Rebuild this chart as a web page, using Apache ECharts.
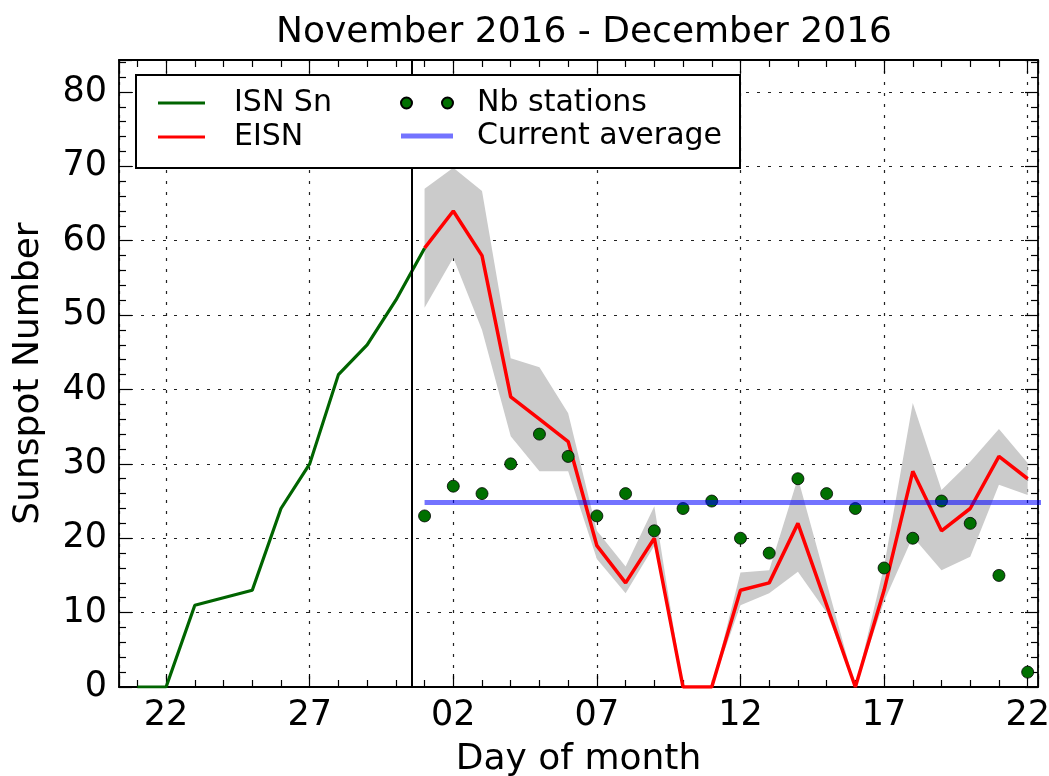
<!DOCTYPE html>
<html>
<head>
<meta charset="utf-8">
<script src="https://cdn.jsdelivr.net/npm/echarts@6/dist/echarts.min.js"></script>
<style>
  html, body { margin: 0; padding: 0; background: #fff; }
  #chart { width: 1049px; height: 776px; }
</style>
</head>
<body>
<div id="chart"></div>
<script>
// x = days since 22 Nov 2016 (Nov 21 = -1, Dec 1 = 9, Dec 22 = 30)
var xTickLabels = ['22', '27', '02', '07', '12', '17', '22'];
var xMin = -1.64, xMax = 30.36;
var nowDay = 8.54;

// ISN Sn, daily from Nov 21 to Dec 1
var isnStart = -1;
var isnValues = [0, 0, 11, 12, 13, 24, 30, 42, 46, 52, 59];

// EISN, daily from Dec 1 to Dec 22
var eisnStart = 9;
var eisnValues = [59, 64, 58, 39, 36, 33, 19, 14, 20, 0, 0, 13, 14, 22, 11, 0, 13, 29, 21, 24, 31, 28];
var eisnLow    = [51, 57.7, 48, 33.7, 29, 29, 17.2, 12.6, 19, 0, 0, 11, 12.6, 15.5, 10, 0, 11.5, 20.2, 15.7, 17.5, 27.2, 25.8];
var eisnHigh   = [67, 69.8, 66.7, 44.2, 43, 36.8, 21, 16.2, 24.3, 0, 0, 15.4, 15.7, 28.1, 14, 0, 16.2, 38.2, 26.5, 30.3, 34.7, 30.1];

// number of stations, Dec 1 to Dec 22
var nbStations = [23, 27, 26, 30, 34, 31, 23, 26, 21, 24, 25, 20, 18, 28, 26, 24, 16, 20, 25, 22, 15, 2];

// current average
var currentAverage = 24.8;
var averageSpan = [9, 31];

function toPairs(start, arr) {
    return arr.map(function (v, i) { return [start + i, v]; });
}

var chart = echarts.init(document.getElementById('chart'));

var font = 'DejaVu Sans';
var tickStyle = { inside: true, length: 13, lineStyle: { color: '#000', width: 1.2 } };
var minorStyle = { show: true, splitNumber: 5, length: 7, lineStyle: { color: '#000', width: 1.2 } };
var gridLine = { show: true, lineStyle: { color: '#222', width: 1.2, type: [3, 8] } };
var frameLine = { show: true, onZero: false, lineStyle: { color: '#000', width: 1.8 } };
var legendText = { fontFamily: font, fontSize: 30, lineHeight: 30, color: '#000' };

chart.setOption({
    backgroundColor: '#fff',
    animation: false,
    title: {
        text: 'November 2016 - December 2016',
        left: 579, textAlign: 'center', top: 10,
        textStyle: { fontFamily: font, fontSize: 36, fontWeight: 'normal', color: '#000' }
    },
    grid: { left: 119, right: 11, top: 60, bottom: 89, containLabel: false, outerBoundsMode: 'none' },
    graphic: [{
        type: 'rect', z: 100,
        shape: { x: 136, y: 75, width: 604, height: 93 },
        style: { fill: '#fff', stroke: '#000', lineWidth: 2 }
    }],
    legend: [{
        orient: 'vertical', left: 153, top: 83, z: 101,
        itemWidth: 47, itemHeight: 10, itemGap: 4,
        data: [
            { name: 'ISN Sn', icon: 'path://M0,0h47v3h-47Z' },
            { name: 'EISN', icon: 'path://M0,0h47v3h-47Z' }
        ],
        textStyle: Object.assign({ padding: [0, 0, 0, 24] }, legendText)
    }, {
        orient: 'vertical', left: 395, top: 83, z: 101,
        itemWidth: 52, itemHeight: 11, itemGap: 3,
        data: [
            { name: 'Nb stations', icon: 'path://M0,5.5a5.5,5.5 0 1,0 11,0a5.5,5.5 0 1,0 -11,0Z M41,5.5a5.5,5.5 0 1,0 11,0a5.5,5.5 0 1,0 -11,0Z' },
            { name: 'Current average', icon: 'path://M0,0h52v5h-52Z' }
        ],
        textStyle: Object.assign({ padding: [0, 0, 0, 19] }, legendText)
    }],
    xAxis: [{
        type: 'value', min: xMin, max: xMax, splitNumber: 6,
        name: 'Day of month', nameLocation: 'middle', nameGap: 55,
        nameTextStyle: { fontFamily: font, fontSize: 36, color: '#000' },
        axisLine: frameLine, axisTick: tickStyle, minorTick: minorStyle,
        splitLine: gridLine,
        axisLabel: {
            fontFamily: font, fontSize: 35, color: '#000', margin: 11,
            showMinLabel: false, showMaxLabel: false,
            formatter: function (v) {
                var k = Math.round(v / 5);
                return Math.abs(v - k * 5) < 1e-6 && xTickLabels[k] !== undefined ? xTickLabels[k] : '';
            }
        }
    }, {
        type: 'value', position: 'top', min: xMin, max: xMax, splitNumber: 6,
        axisLine: frameLine, axisTick: tickStyle, minorTick: minorStyle,
        axisLabel: { show: false }, splitLine: { show: false }
    }],
    yAxis: [{
        type: 'value', min: 0, max: 84.3, interval: 10,
        name: 'Sunspot Number', nameLocation: 'middle', nameGap: 72,
        nameTextStyle: { fontFamily: font, fontSize: 36, color: '#000' },
        axisLine: frameLine, axisTick: tickStyle, minorTick: minorStyle,
        splitLine: gridLine,
        axisLabel: { fontFamily: font, fontSize: 35, color: '#000', margin: 12, showMaxLabel: false,
            formatter: function (v) { return v % 10 === 0 ? String(v) : ''; } }
    }, {
        type: 'value', position: 'right', min: 0, max: 84.3, interval: 10,
        axisLine: frameLine, axisTick: tickStyle, minorTick: minorStyle,
        axisLabel: { show: false }, splitLine: { show: false }
    }],
    series: [{
        name: 'EISN range', type: 'custom', silent: true, z: 1,
        data: toPairs(eisnStart, eisnLow),
        encode: { x: 0, y: 1 },
        renderItem: function (params, api) {
            if (params.dataIndex !== 0) return;
            var pts = [];
            eisnHigh.forEach(function (h, i) { pts.push(api.coord([eisnStart + i, h])); });
            for (var i = eisnLow.length - 1; i >= 0; i--) pts.push(api.coord([eisnStart + i, eisnLow[i]]));
            return { type: 'polygon', shape: { points: pts }, style: { fill: '#cbcbcb' } };
        }
    }, {
        name: 'EISN', type: 'line', symbol: 'none',
        data: toPairs(eisnStart, eisnValues),
        lineStyle: { color: '#ff0000', width: 3.5 }, itemStyle: { color: '#ff0000' }, z: 3
    }, {
        name: 'ISN Sn', type: 'line', symbol: 'none',
        data: toPairs(isnStart, isnValues),
        lineStyle: { color: '#006400', width: 3.2 }, itemStyle: { color: '#006400' }, z: 4,
        markLine: {
            symbol: 'none', silent: true, label: { show: false },
            lineStyle: { color: '#000', width: 2, type: 'solid' },
            data: [{ xAxis: nowDay }]
        }
    }, {
        name: 'Nb stations', type: 'scatter', symbolSize: 12,
        data: toPairs(eisnStart, nbStations),
        itemStyle: { color: '#007000', borderColor: '#000', borderWidth: 0.8, opacity: 1 }, z: 5
    }, {
        name: 'Current average', type: 'line', symbol: 'none', clip: true,
        data: averageSpan.map(function (d) { return [d, currentAverage]; }),
        lineStyle: { color: 'rgba(0,0,255,0.55)', width: 5 }, itemStyle: { color: 'rgba(0,0,255,0.55)' }, z: 6
    }]
});
</script>
</body>
</html>
